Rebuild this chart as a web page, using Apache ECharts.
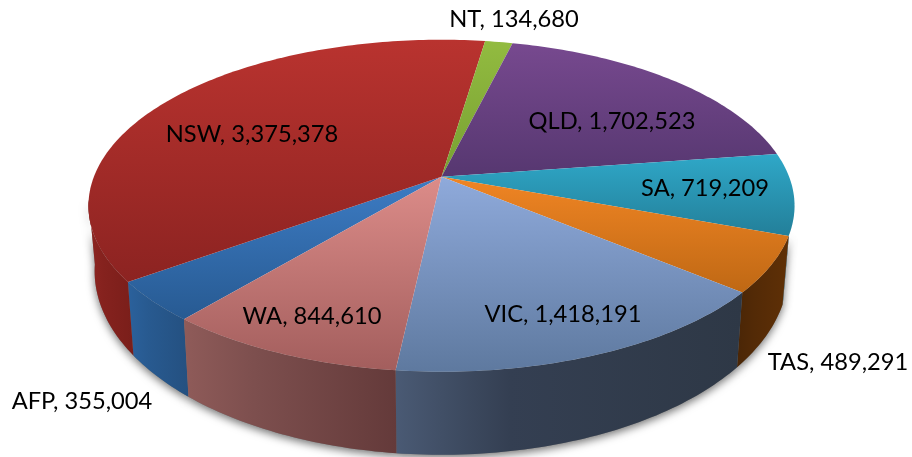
<!DOCTYPE html>
<html lang="en" style="height: 100%">
<head>
    <meta charset="utf-8">
    <title>Population by state</title>
    <style>
        html, body { margin: 0; height: 100%; background: #fff; }
        #chart { width: 912px; height: 457px; }
    </style>
</head>
<body>
<div id="chart"></div>
<script src="https://cdn.jsdelivr.net/npm/echarts@6/dist/echarts.min.js"></script>
<script>
    const names = ['AFP', 'NSW', 'NT', 'QLD', 'SA', 'TAS', 'VIC', 'WA'];
    const values = [355004, 3375378, 134680, 1702523, 719209, 489291, 1418191, 844610];

    // top face colours, far edge to near edge
    const topColors = [
        ['#3d7cc4', '#275a92'], ['#b9332f', '#8c2321'], ['#92bb40', '#78a032'], ['#77498f', '#563770'],
        ['#2fa8c8', '#237f99'], ['#f08524', '#bf6814'], ['#8faadb', '#5e799f'], ['#dc8c89', '#a35e5d']
    ];
    // wall colours: left, a third of the way across, right
    const wallColors = [
        ['#2b619c', '#285a90', '#245080'], ['#8e2622', '#85221e', '#7a1e1a'], ['#6f8c2c', '#6f8c2c', '#6f8c2c'], ['#4a3060', '#4a3060', '#4a3060'],
        ['#1f7088', '#1f7088', '#2a5a68'], ['#4a2606', '#532a06', '#5f3006'], ['#4a5a74', '#343f52', '#2e3846'], ['#8f5b59', '#7d4f4e', '#643a3a']
    ];
    const labelSpots = [[82, 401], [252, 134], [514, 19], [612, 121], [705, 188], [838, 362], [563, 314], [312, 316]];

    // the disc is a circle seen in perspective: slices meet at the projected centre, above the ellipse centre
    const cx = 441.5, cy = 176.7;
    const radiusX = 347.6, radiusY = 160.9, persp = 0.175;
    const bottomY = 239, bottomRadiusX = 341.5, bottomRadiusY = 178;
    const startAngle = 129.9;
    const wallFrom = 20, wallTo = 172;

    const total = values.reduce((a, b) => a + b, 0);
    let acc = startAngle;
    const spans = values.map(v => {
        const s = [acc, acc + v / total * 360];
        acc = s[1];
        return s;
    });

    const rim = (deg, rx, ry, y0) => {
        const t = deg * Math.PI / 180;
        const w = 1 - persp * Math.sin(t);
        return [cx + rx * Math.cos(t) / w, y0 + ry * Math.sin(t) / w];
    };

    const arc = (from, to, rx, ry, y0) => {
        const pts = [];
        const n = Math.max(2, Math.ceil(Math.abs(to - from)));
        for (let i = 0; i <= n; i++) pts.push(rim(from + (to - from) * i / n, rx, ry, y0));
        return pts;
    };

    // part of a slice that lies on the front wall; wraps past 360 for the last slices
    const wallPart = (span) => {
        for (const shift of [0, -360]) {
            const a = Math.max(span[0] + shift, wallFrom);
            const b = Math.min(span[1] + shift, wallTo);
            if (b > a) return [a, b];
        }
        return null;
    };

    const wallShape = (i) => {
        const part = wallPart(spans[i]);
        if (!part) return null;
        const topArc = arc(part[0], part[1], radiusX, radiusY, cy);
        const lowArc = arc(part[1], part[0], bottomRadiusX, bottomRadiusY, bottomY);
        return topArc.concat(lowArc);
    };

    const renderShadow = (params) => {
        const pts = wallShape(params.dataIndex);
        if (!pts) return null;
        return {
            type: 'polygon',
            shape: { points: pts },
            style: { fill: '#777', shadowBlur: 9, shadowOffsetY: 3, shadowColor: 'rgba(0,0,0,0.55)' }
        };
    };

    const renderWall = (params) => {
        const i = params.dataIndex;
        const pts = wallShape(i);
        if (!pts) return null;
        const xs = pts.map(p => p[0]);
        return {
            type: 'polygon',
            shape: { points: pts },
            style: {
                fill: new echarts.graphic.LinearGradient(Math.min(...xs), 0, Math.max(...xs), 0, [
                    { offset: 0, color: wallColors[i][0] },
                    { offset: 0.33, color: wallColors[i][1] },
                    { offset: 1, color: wallColors[i][2] }
                ], true)
            }
        };
    };

    const renderTop = (params) => {
        const i = params.dataIndex;
        const pts = [[cx, cy]].concat(arc(spans[i][0], spans[i][1], radiusX, radiusY, cy));
        const ys = pts.map(p => p[1]);
        return {
            type: 'polygon',
            shape: { points: pts },
            style: {
                fill: new echarts.graphic.LinearGradient(0, Math.min(...ys), 0, Math.max(...ys), [
                    { offset: 0, color: topColors[i][0] },
                    { offset: 1, color: topColors[i][1] }
                ], true)
            }
        };
    };

    const renderLabel = (params) => {
        const i = params.dataIndex;
        return {
            type: 'text',
            x: labelSpots[i][0],
            y: labelSpots[i][1],
            style: {
                text: names[i] + ', ' + values[i].toLocaleString('en-US'),
                font: '23.7px Lato, "Open Sans", sans-serif',
                fill: '#000',
                align: 'center',
                verticalAlign: 'middle'
            }
        };
    };

    const seriesData = names.map((name, i) => ({ name: name, value: values[i] }));
    const layer = (fn, z) => ({
        type: 'custom', coordinateSystem: 'none', renderItem: fn, data: seriesData, z: z, silent: true
    });

    const chart = echarts.init(document.getElementById('chart'));
    chart.setOption({
        animation: false,
        backgroundColor: '#fff',
        series: [
            layer(renderShadow, 1),
            layer(renderWall, 2),
            layer(renderTop, 3),
            layer(renderLabel, 4)
        ]
    });
</script>
</body>
</html>
